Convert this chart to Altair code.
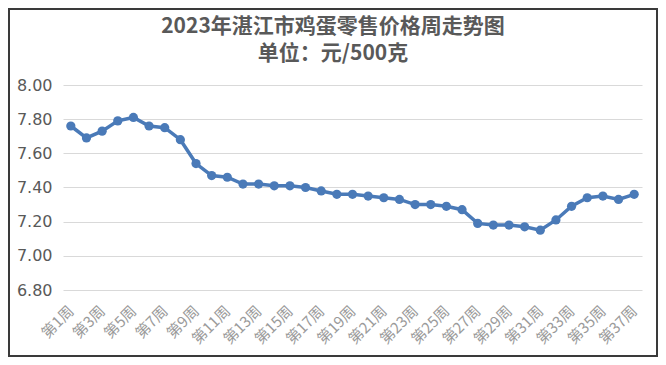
import altair as alt
import pandas as pd

weeks = ["第1周", "第2周", "第3周", "第4周", "第5周", "第6周", "第7周", "第8周", "第9周", "第10周",
         "第11周", "第12周", "第13周", "第14周", "第15周", "第16周", "第17周", "第18周", "第19周", "第20周",
         "第21周", "第22周", "第23周", "第24周", "第25周", "第26周", "第27周", "第28周", "第29周", "第30周",
         "第31周", "第32周", "第33周", "第34周", "第35周", "第36周", "第37周"]
prices = [7.76, 7.69, 7.73, 7.79, 7.81, 7.76, 7.75, 7.68, 7.54, 7.47,
          7.46, 7.42, 7.42, 7.41, 7.41, 7.40, 7.38, 7.36, 7.36, 7.35,
          7.34, 7.33, 7.30, 7.30, 7.29, 7.27, 7.19, 7.18, 7.18, 7.17,
          7.15, 7.21, 7.29, 7.34, 7.35, 7.33, 7.36]
x_tick_labels = ["第1周", "第3周", "第5周", "第7周", "第9周", "第11周", "第13周", "第15周", "第17周",
                 "第19周", "第21周", "第23周", "第25周", "第27周", "第29周", "第31周", "第33周",
                 "第35周", "第37周"]
y_ticks = [6.8, 7.0, 7.2, 7.4, 7.6, 7.8, 8.0]
title_line1 = ["2023年湛江市鸡蛋零售价格周走势图"]
title_line2 = ["单位：元/500克"]

df = pd.DataFrame({"week": weeks, "price": prices})

line_color = "#4a7ab8"

line = alt.Chart(df).mark_line(
    color=line_color,
    strokeWidth=3.5,
    point=alt.OverlayMarkDef(filled=True, size=85, color=line_color, opacity=1),
).encode(
    x=alt.X("week:N", sort=weeks, title=None,
            axis=alt.Axis(values=x_tick_labels, labelAngle=-45, labelAlign="right",
                          labelBaseline="middle", labelPadding=18, ticks=False, domain=False,
                          grid=False, labelFont="Noto Sans CJK SC", labelFontSize=15,
                          labelColor="#9a9a9a", labelOverlap=False)),
    y=alt.Y("price:Q", title=None,
            scale=alt.Scale(domain=[6.8, 8.0], nice=False, zero=False),
            axis=alt.Axis(values=y_ticks, format=".2f", ticks=False, domain=False,
                          grid=True, gridColor="#d9d9d9", gridWidth=1,
                          labelFont="DejaVu Sans", labelFontSize=16, labelColor="#595959",
                          labelPadding=11)),
)

t1 = alt.Chart(pd.DataFrame({"t": title_line1})).mark_text(
    font="Noto Sans CJK SC", fontSize=21, fontWeight="bold", color="#595959",
    align="center", baseline="middle"
).encode(text="t:N", x=alt.value(270), y=alt.value(-58))

t2 = alt.Chart(pd.DataFrame({"t": title_line2})).mark_text(
    font="Noto Sans CJK SC", fontSize=21, fontWeight="bold", color="#595959",
    align="center", baseline="middle"
).encode(text="t:N", x=alt.value(270), y=alt.value(-31))

frame_df = pd.DataFrame({"f": [0]})
frame = alt.Chart(frame_df).mark_rect(fill=None, stroke="#3a3a3a", strokeWidth=2).encode(
    x=alt.value(-54), x2=alt.value(594), y=alt.value(-76), y2=alt.value(271)
)

chart = alt.layer(line, t1, t2, frame).properties(
    width=579,
    height=205,
    autosize=alt.AutoSizeParams(type="none"),
    padding={"left": 55, "top": 77, "right": 16, "bottom": 67},
    background="white",
).configure_view(stroke=None)

chart.save("out.html", embed_options={"renderer": "svg", "actions": False})
